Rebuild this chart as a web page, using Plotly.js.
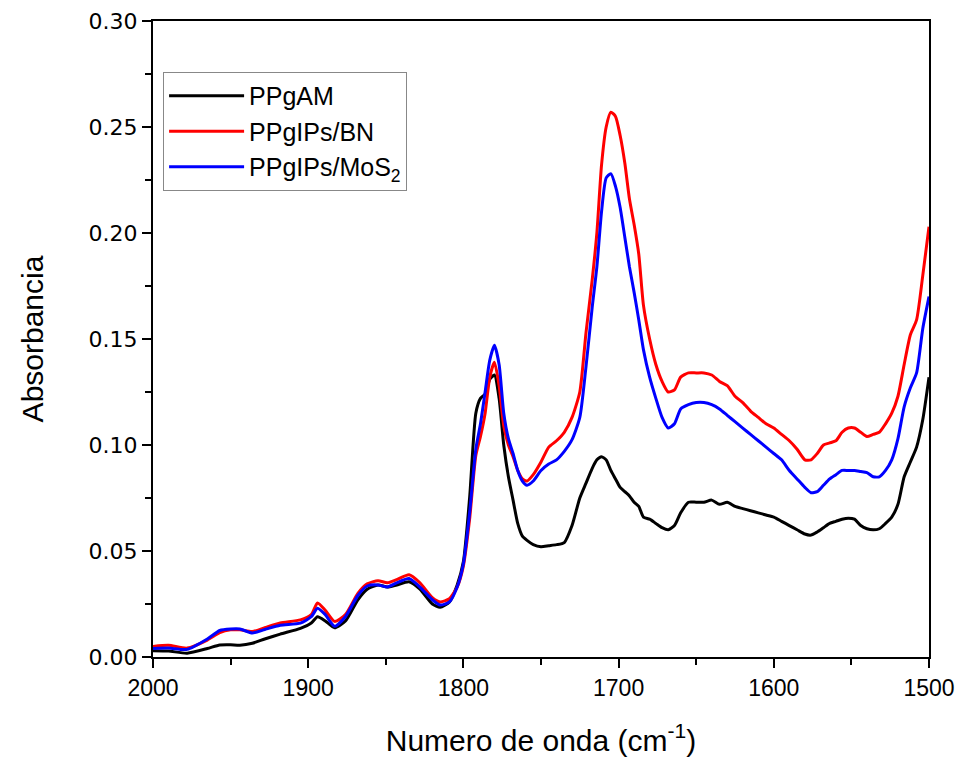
<!DOCTYPE html>
<html>
<head>
<meta charset="utf-8">
<script src="https://cdn.plot.ly/plotly-3.0.1.min.js"></script>
<style>html,body{margin:0;padding:0;background:#fff;}#chart{width:962px;height:764px;}</style>
</head>
<body>
<div id="chart"></div>
<script>
const wavenumber = [2000,1990,1978,1965,1957,1950,1944,1936,1928,1918,1905,1898,1894,1889,1883,1876,1868,1862,1855,1849,1843,1835,1828,1820,1815,1809,1804,1800,1796,1792,1789,1786,1783,1780,1777,1774,1771,1768,1765,1762,1759,1755,1750,1745,1740,1735,1730,1725,1721,1717,1714,1711,1708,1705,1702,1699,1696,1693,1690,1687,1684,1680,1676,1672,1668,1664,1660,1655,1650,1645,1640,1635,1630,1625,1620,1615,1610,1605,1600,1595,1590,1585,1580,1576,1572,1568,1564,1560,1556,1552,1548,1544,1540,1536,1532,1528,1524,1520,1516,1512,1508,1504,1500];

const ppgam = [0.003,0.0028,0.0018,0.004,0.0057,0.0058,0.0056,0.0065,0.0085,0.0108,0.0135,0.016,0.019,0.017,0.0138,0.017,0.027,0.032,0.034,0.033,0.034,0.0355,0.032,0.025,0.0235,0.026,0.034,0.045,0.075,0.115,0.122,0.124,0.131,0.133,0.122,0.100,0.085,0.074,0.063,0.057,0.055,0.053,0.052,0.0525,0.053,0.054,0.062,0.075,0.082,0.089,0.093,0.0945,0.093,0.088,0.084,0.080,0.078,0.076,0.073,0.071,0.066,0.065,0.063,0.061,0.060,0.062,0.068,0.073,0.073,0.073,0.074,0.072,0.073,0.071,0.070,0.069,0.068,0.067,0.066,0.064,0.062,0.060,0.058,0.0575,0.059,0.061,0.063,0.064,0.065,0.0655,0.065,0.062,0.0605,0.060,0.0605,0.063,0.066,0.072,0.085,0.092,0.099,0.112,0.132];

const ppgipsBN = [0.005,0.0055,0.0042,0.008,0.0115,0.0128,0.0128,0.012,0.0138,0.016,0.0175,0.020,0.0255,0.022,0.0168,0.020,0.030,0.0345,0.036,0.035,0.0365,0.0388,0.035,0.028,0.026,0.0275,0.033,0.043,0.065,0.095,0.104,0.115,0.132,0.139,0.128,0.109,0.100,0.0945,0.088,0.084,0.083,0.086,0.092,0.099,0.102,0.106,0.113,0.125,0.153,0.178,0.200,0.232,0.250,0.257,0.255,0.246,0.233,0.216,0.204,0.190,0.166,0.150,0.138,0.130,0.125,0.126,0.132,0.134,0.134,0.134,0.133,0.130,0.128,0.123,0.120,0.116,0.113,0.110,0.108,0.105,0.102,0.098,0.093,0.093,0.096,0.100,0.101,0.102,0.106,0.108,0.108,0.106,0.104,0.105,0.106,0.110,0.115,0.123,0.138,0.152,0.159,0.180,0.203];

const ppgipsMoS2 = [0.004,0.0042,0.0036,0.0085,0.0125,0.0132,0.0132,0.0113,0.013,0.015,0.016,0.019,0.023,0.020,0.0145,0.019,0.029,0.0335,0.034,0.033,0.035,0.037,0.033,0.027,0.0245,0.026,0.033,0.044,0.068,0.098,0.110,0.125,0.140,0.147,0.138,0.115,0.103,0.096,0.088,0.083,0.081,0.083,0.088,0.091,0.093,0.097,0.1025,0.113,0.137,0.165,0.184,0.210,0.226,0.228,0.222,0.212,0.198,0.184,0.172,0.159,0.145,0.132,0.122,0.113,0.108,0.110,0.117,0.119,0.120,0.120,0.119,0.117,0.114,0.111,0.108,0.105,0.102,0.099,0.096,0.093,0.088,0.084,0.080,0.0775,0.078,0.081,0.084,0.086,0.088,0.088,0.088,0.0875,0.087,0.085,0.085,0.088,0.093,0.103,0.118,0.127,0.134,0.155,0.170];

const seriesNames = ['PPgAM', 'PPgIPs/BN', 'PPgIPs/MoS<sub>2</sub>'];
const yTickVals = [0, 0.05, 0.10, 0.15, 0.20, 0.25, 0.30];
const xTickVals = [2000, 1900, 1800, 1700, 1600, 1500];

const colors = ['#000000', '#ff0000', '#0000ff'];
const ys = [ppgam, ppgipsBN, ppgipsMoS2];

const traces = ys.map((y, i) => ({
  x: wavenumber,
  y: y,
  type: 'scatter',
  mode: 'lines',
  name: seriesNames[i],
  line: {color: colors[i], width: 3, shape: 'spline', smoothing: 0.6}
}));

const layout = {
  width: 962,
  height: 764,
  margin: {l: 153, r: 33, t: 21, b: 107},
  paper_bgcolor: '#ffffff',
  plot_bgcolor: '#ffffff',
  showlegend: true,
  legend: {
    x: 0.013, y: 0.92, xanchor: 'left', yanchor: 'top',
    bgcolor: '#ffffff', bordercolor: '#888888', borderwidth: 1,
    font: {family: 'Liberation Sans, Arial, sans-serif', size: 25, color: '#000'},
    itemwidth: 75, tracegroupgap: 0
  },
  xaxis: {
    range: [2000, 1500],
    tickvals: xTickVals,
    ticktext: xTickVals.map(String),
    ticks: 'outside', ticklen: 9, tickwidth: 2, tickcolor: '#000',
    minor: {dtick: 50, tick0: 1500, ticks: 'outside', ticklen: 6, tickwidth: 2, tickcolor: '#000'},
    showline: true, linecolor: '#000', linewidth: 2, mirror: true,
    showgrid: false, zeroline: false,
    tickfont: {family: 'Liberation Sans, Arial, sans-serif', size: 23, color: '#000'},
    title: {text: 'Numero de onda (cm<sup>-1</sup>)', standoff: 30,
            font: {family: 'Liberation Sans, Arial, sans-serif', size: 30, color: '#000'}}
  },
  yaxis: {
    range: [0, 0.30],
    tickvals: yTickVals,
    tickformat: '.2f',
    ticks: 'outside', ticklen: 9, tickwidth: 2, tickcolor: '#000',
    minor: {dtick: 0.025, tick0: 0, ticks: 'outside', ticklen: 6, tickwidth: 2, tickcolor: '#000'},
    showline: true, linecolor: '#000', linewidth: 2, mirror: true,
    showgrid: false, zeroline: false,
    tickfont: {family: 'DejaVu Sans, sans-serif', size: 22, color: '#000'},
    title: {text: 'Absorbancia', standoff: 36,
            font: {family: 'Liberation Sans, Arial, sans-serif', size: 30, color: '#000'}}
  }
};

Plotly.newPlot('chart', traces, layout, {displayModeBar: false, staticPlot: true});
</script>
</body>
</html>
